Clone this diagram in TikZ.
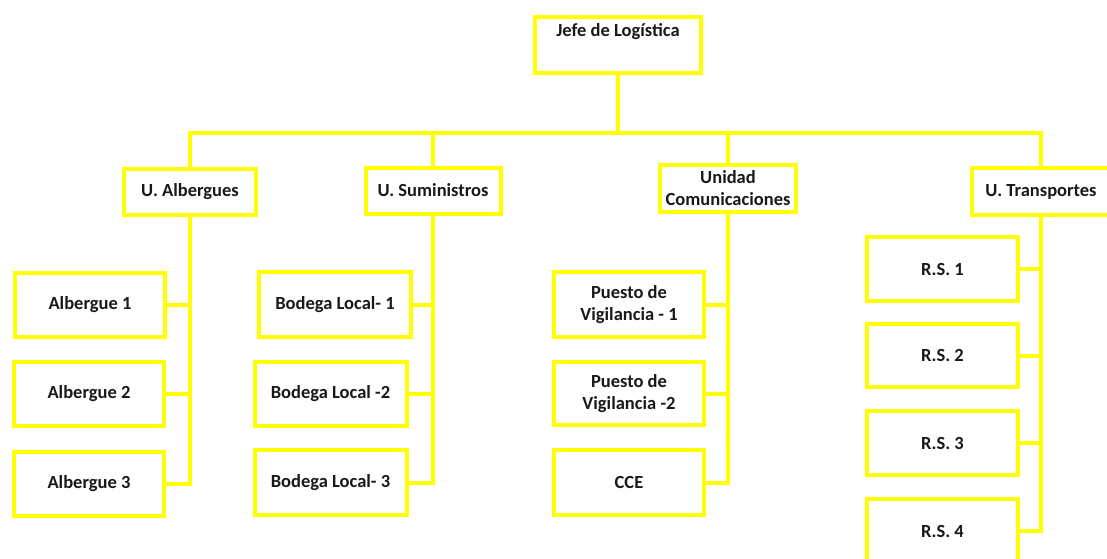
\documentclass[tikz,border=0pt]{standalone}
\usepackage{fontspec}
\setmainfont{Carlito}
\definecolor{orgyellow}{RGB}{255,255,0}
\begin{document}
\begin{tikzpicture}[x=1pt,y=-1pt,
  boxfont/.style={font=\fontsize{18.5}{22}\selectfont\bfseries, text=black!90},
  box/.style={draw=orgyellow, line width=4pt, fill=white, inner sep=0pt,
    align=center, boxfont},
  unitbox/.style={box, minimum height=46pt},
  leafbox/.style={box, minimum width=150pt, minimum height=64pt},
  link/.style={draw=orgyellow, line width=4pt}]
\clip (0,0) rectangle (1107,558);
\useasboundingbox (0,0) rectangle (1107,558);

% head of the chart
\node[box, minimum width=166pt, minimum height=56pt,
  label={[boxfont, yshift=13pt]center:Jefe de Logística}]
  (jefe) at (618,45) {};
\coordinate (bus) at (618,133);

% units
\node[unitbox, minimum width=132pt] (alb) at (190,192) {U. Albergues};
\node[unitbox, minimum width=135pt] (sum) at (433,190.5) {U. Suministros};
\node[unitbox, minimum width=136pt, minimum height=47pt] (com) at (728,188.5) {Unidad\\Comunicaciones};
\node[unitbox, minimum width=138pt, minimum height=47pt] (tra) at (1041,191.5) {U. Transportes};

% shelters
\node[leafbox] (a1) at (90,305) {Albergue 1};
\node[leafbox] (a2) at (89,394) {Albergue 2};
\node[leafbox] (a3) at (89,484) {Albergue 3};

% warehouses
\node[leafbox, minimum width=152pt, minimum height=65pt] (b1) at (335,304.5) {Bodega Local- 1};
\node[leafbox, minimum width=152pt] (b2) at (330.5,394) {Bodega Local -2};
\node[leafbox, minimum width=152pt, minimum height=65pt] (b3) at (330.5,482.5) {Bodega Local- 3};

% communications
\node[leafbox, minimum height=65pt] (c1) at (629,304.5) {Puesto de\\Vigilancia - 1};
\node[leafbox, minimum height=63pt] (c2) at (629,393.5) {Puesto de\\Vigilancia -2};
\node[leafbox, minimum height=65pt] (c3) at (629,482.5) {CCE};

% transport
\node[leafbox, minimum width=151pt] (r1) at (942.5,269) {R.S. 1};
\node[leafbox, minimum width=151pt, minimum height=63pt] (r2) at (942.5,355.5) {R.S. 2};
\node[leafbox, minimum width=151pt] (r3) at (942.5,443) {R.S. 3};
\node[leafbox, minimum width=151pt] (r4) at (942.5,531) {R.S. 4};

% top bus
\path[link] (jefe.south) -- (bus);
\path[link] (alb.north) -- (alb.north |- bus) -- (tra.north |- bus) -- (tra.north);
\path[link] (sum.north) -- (sum.north |- bus);
\path[link] (com.north) -- (com.north |- bus);

% branches of each unit
\path[link] (alb.south) -- (alb.south |- a3.east) -- (a3.east);
\path[link] (a1.east) -- (a1.east -| alb.south);
\path[link] (a2.east) -- (a2.east -| alb.south);

\path[link] (sum.south) -- (sum.south |- b3.east) -- (b3.east);
\path[link] (b1.east) -- (b1.east -| sum.south);
\path[link] (b2.east) -- (b2.east -| sum.south);

\path[link] (com.south) -- (com.south |- c3.east) -- (c3.east);
\path[link] (c1.east) -- (c1.east -| com.south);
\path[link] (c2.east) -- (c2.east -| com.south);

\path[link] (tra.south) -- (tra.south |- r4.east) -- (r4.east);
\path[link] (r1.east) -- (r1.east -| tra.south);
\path[link] (r2.east) -- (r2.east -| tra.south);
\path[link] (r3.east) -- (r3.east -| tra.south);
\end{tikzpicture}
\end{document}
